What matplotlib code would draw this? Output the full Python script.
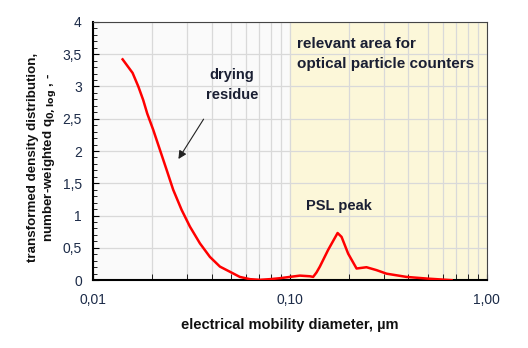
import matplotlib.pyplot as plt
from matplotlib.ticker import FixedLocator, FuncFormatter, MultipleLocator

# electrical mobility diameter (um) and q0,log values
diameter = [0.01415, 0.0159, 0.0170, 0.0180, 0.01887, 0.02023, 0.02188, 0.02366,
            0.02556, 0.02819, 0.03107, 0.03493, 0.03926, 0.04413, 0.0496, 0.0557,
            0.0627, 0.0704, 0.0791, 0.089, 0.1, 0.1124, 0.1264, 0.1313, 0.1366,
            0.142, 0.1565, 0.1747, 0.183, 0.1977, 0.2181, 0.2449, 0.2754, 0.3097,
            0.391, 0.494, 0.662]
q0_log = [3.42, 3.21, 3.00, 2.79, 2.58, 2.33, 2.02, 1.71,
          1.40, 1.09, 0.83, 0.57, 0.36, 0.21, 0.13, 0.05,
          0.015, 0.005, 0.015, 0.03, 0.05, 0.07, 0.06, 0.05, 0.12,
          0.21, 0.47, 0.73, 0.67, 0.41, 0.18, 0.20, 0.155, 0.10,
          0.05, 0.025, 0.0]
x_ticks = [0.01, 0.1, 1.0]
x_tick_labels = ["0,01", "0,10", "1,00"]

plt.rcParams['font.family'] = ['Liberation Sans', 'DejaVu Sans']

fig = plt.figure(figsize=(5.28, 3.48), dpi=100)
ax = fig.add_axes([0.176, 0.195, 0.746, 0.742])
ax.set_facecolor('#fafafa')

ax.set_xscale('log')
ax.set_xlim(0.01, 1.0)
ax.set_ylim(0, 4)

# highlighted region for optical particle counters
ax.axvspan(0.1, 1.0, color='#fcf7d9', zorder=0)

ax.grid(True, which='both', axis='x', color='#d9d9d9', linewidth=0.9, zorder=1)
ax.grid(True, which='major', axis='y', color='#d9d9d9', linewidth=0.9, zorder=1)
ax.set_axisbelow(True)

ax.plot(diameter, q0_log, color='red', linewidth=1.8, zorder=3,
        solid_joinstyle='round')

ax.xaxis.set_major_locator(FixedLocator(x_ticks))
ax.set_xticklabels(x_tick_labels)
ax.yaxis.set_major_locator(MultipleLocator(0.5))
ax.yaxis.set_minor_locator(MultipleLocator(0.1))
ax.yaxis.set_major_formatter(FuncFormatter(lambda v, p: f"{v:g}".replace('.', ',')))

ax.tick_params(axis='both', which='both', direction='in', colors='black',
               labelcolor='#1c2b48', labelsize=10)
ax.tick_params(axis='x', which='major', length=4, pad=9)
ax.tick_params(axis='x', which='minor', length=4)
ax.tick_params(axis='y', which='major', length=4, pad=8)
ax.tick_params(axis='y', which='minor', length=3)

ax.spines['left'].set_linewidth(1.5)
ax.spines['bottom'].set_linewidth(1.5)
ax.spines['top'].set_color('#444444')
ax.spines['right'].set_color('#444444')

ax.set_xlabel("electrical mobility diameter, µm", fontsize=10.5, fontweight='bold',
              color='#111111', labelpad=8)
ax.set_ylabel("transformed density distribution,\nnumber-weighted q$_{\\mathbf{0,log}}$ , -",
              fontsize=9.6, fontweight='bold', color='#111111', linespacing=1.2)
ax.yaxis.set_label_coords(-0.089, 0.477)

txt_color = '#1a1f33'
ax.text(0.0508, 3.02, "drying\nresidue", ha='center', va='center', fontsize=10.5,
        fontweight='bold', color=txt_color, linespacing=1.5)
ax.annotate("", xy=(0.0267, 1.84), xytext=(0.0371, 2.53),
            arrowprops=dict(arrowstyle='-|>', color='#222222', lw=0.8, mutation_scale=12))
ax.text(0.1085, 3.50, "relevant area for\noptical particle counters", ha='left',
        va='center', fontsize=11, fontweight='bold', color=txt_color, linespacing=1.5)
ax.text(0.1774, 1.15, "PSL peak", ha='center', va='center', fontsize=10.5,
        fontweight='bold', color=txt_color)

fig.savefig("out.png", dpi=100)
